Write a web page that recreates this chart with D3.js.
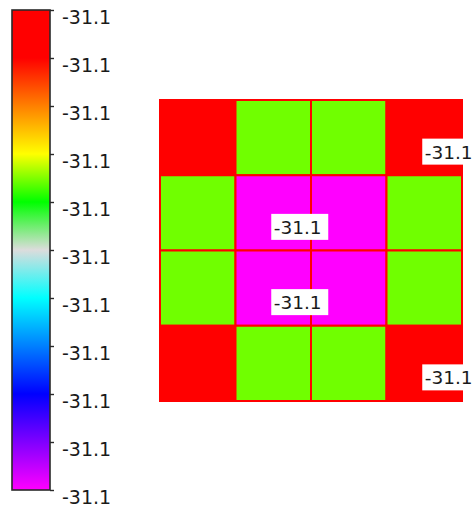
<!DOCTYPE html>
<html>
<head>
<meta charset="utf-8">
<script src="https://cdn.jsdelivr.net/npm/d3@7"></script>
<style>
  html, body { margin: 0; padding: 0; background: #ffffff; }
  svg { display: block; }
  text { font-family: "DejaVu Sans", Verdana, sans-serif; }
</style>
</head>
<body>
<div id="chart"></div>
<script>
// ---- data ----
const columns = [0, 1, 2, 3];
const rows = [0, 1, 2, 3];
const values = [
  [-31.06,   -31.0885, -31.0885, -31.06],
  [-31.0885, -31.14,   -31.14,   -31.0885],
  [-31.0885, -31.14,   -31.14,   -31.0885],
  [-31.06,   -31.0885, -31.0885, -31.06]
];
const valueMin = -31.14;
const valueMax = -31.06;
const labelledCells = [[3, 0], [1, 1], [1, 2], [3, 3]]; // [col, row]
const colorStops = [0, 0.2, 0.4, 0.5, 0.6, 0.7, 0.8, 0.9, 1];
const colorStopColors = ["#ff00ff", "#0000ff", "#00ffff", "#dcdcdc", "#00ff00", "#ffff00", "#ff8000", "#ff0000", "#ff0000"];
const tickCount = 11;

// ---- layout ----
const W = 472, H = 506;
const svg = d3.select("#chart").append("svg").attr("width", W).attr("height", H);
const fmt = v => d3.format(".1f")(v).replace("\u2212", "-");

const tScale = d3.scaleLinear().domain([valueMin, valueMax]).range([0, 1]);
const colorScale = d3.scaleLinear().domain(colorStops).range(colorStopColors).interpolate(d3.interpolateRgb);
const color = v => colorScale(tScale(v));

// ---- colour bar ----
const bar = { x: 12, y: 10, w: 38, h: 480 };
const defs = svg.append("defs");
const grad = defs.append("linearGradient").attr("id", "cbar")
  .attr("x1", 0).attr("y1", 1).attr("x2", 0).attr("y2", 0);
grad.selectAll("stop").data(colorStops).join("stop")
  .attr("offset", d => d)
  .attr("stop-color", (d, i) => colorStopColors[i]);

svg.append("rect")
  .attr("x", bar.x).attr("y", bar.y).attr("width", bar.w).attr("height", bar.h)
  .attr("fill", "url(#cbar)").attr("stroke", "#2a2a2a").attr("stroke-width", 1.6);

const barScale = d3.scaleLinear().domain([valueMin, valueMax]).range([bar.y + bar.h, bar.y]);
const tickValues = d3.range(tickCount).map(i => valueMin + (valueMax - valueMin) * i / (tickCount - 1));
const axis = d3.axisRight(barScale).tickValues(tickValues).tickFormat(fmt).tickSize(4).tickPadding(8);
const ag = svg.append("g").attr("transform", `translate(${bar.x + bar.w},0)`).call(axis);
ag.select(".domain").remove();
ag.selectAll(".tick line").attr("stroke", "#2a2a2a").attr("stroke-width", 1.4);
ag.selectAll(".tick text")
  .attr("font-family", "DejaVu Sans, Verdana, sans-serif")
  .attr("font-size", 19)
  .attr("fill", "#1a1a1a")
  .attr("dy", 0)
  .attr("y", 13);

// ---- heat map ----
const xS = d3.scaleBand().domain(columns).range([160, 462]);
const yS = d3.scaleBand().domain(rows).range([100, 401]);

const cells = [];
rows.forEach(r => columns.forEach(c => cells.push({ c, r, v: values[r][c] })));

svg.append("g").selectAll("rect").data(cells).join("rect")
  .attr("x", d => xS(d.c)).attr("y", d => yS(d.r))
  .attr("width", xS.bandwidth()).attr("height", yS.bandwidth())
  .attr("fill", d => color(d.v))
  .attr("stroke", "#ff0000").attr("stroke-width", 2);

// ---- labels ----
const lg = svg.append("g");
labelledCells.forEach(([c, r]) => {
  const x0 = xS(c) + xS.bandwidth() / 2 - 2;
  const y0 = yS(r) + yS.bandwidth() / 2 + 1;
  const g = lg.append("g").attr("transform", `translate(${x0},${y0})`);
  g.append("rect").attr("width", 57).attr("height", 26).attr("fill", "#ffffff");
  g.append("text").attr("x", 2.5).attr("y", 20)
    .attr("font-size", 18.5).attr("fill", "#1a1a1a")
    .text(fmt(values[r][c]));
});
</script>
</body>
</html>
